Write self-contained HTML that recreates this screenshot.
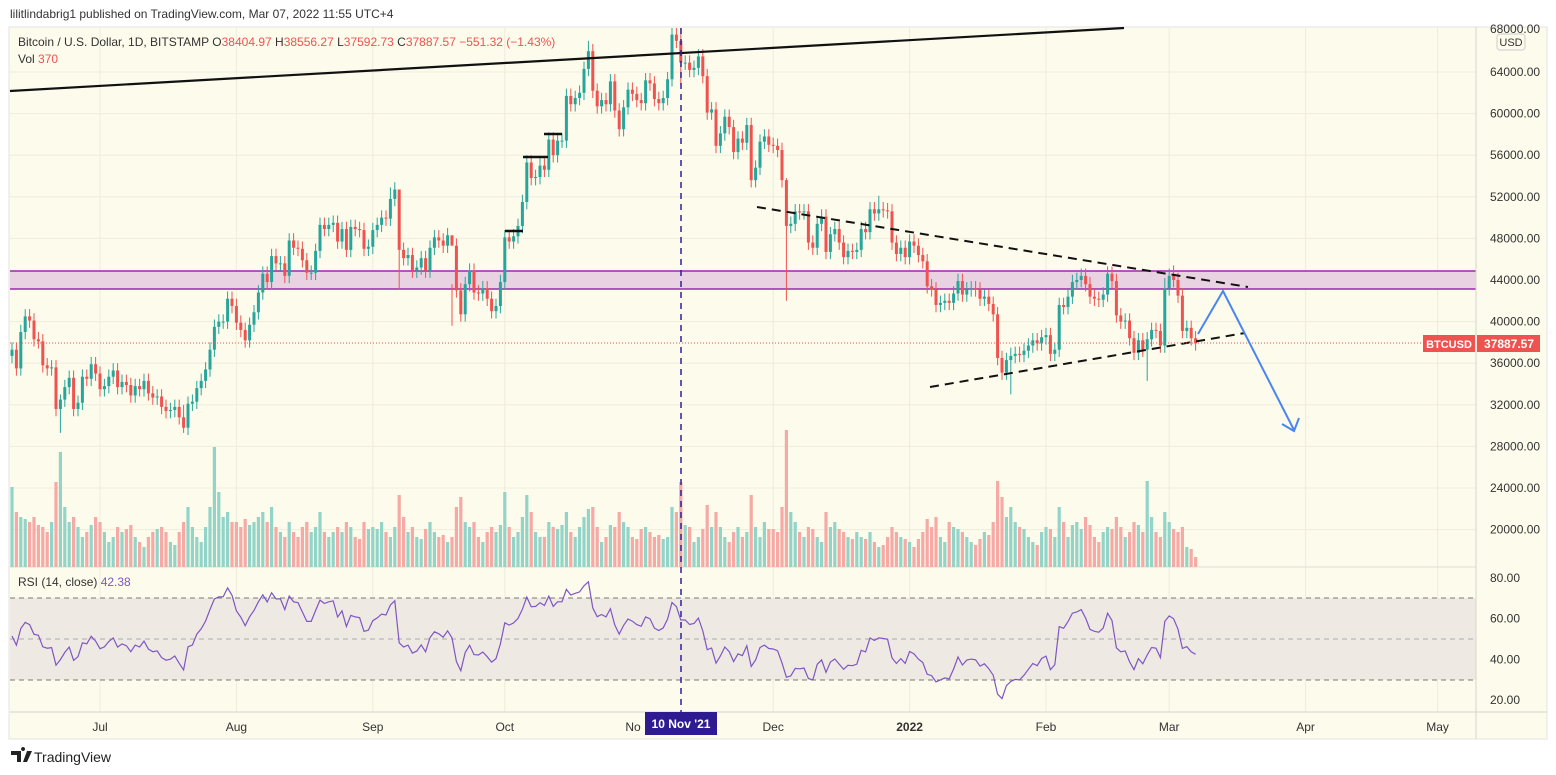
<!DOCTYPE html>
<html><head><meta charset="utf-8"><style>
html,body{margin:0;padding:0;background:#fff;width:1556px;height:775px;overflow:hidden}
svg{display:block;font-family:"Liberation Sans",sans-serif}
</style></head><body>
<svg id="chart" width="1556" height="775" viewBox="0 0 1556 775" xmlns="http://www.w3.org/2000/svg">
<defs><clipPath id="mainClip"><rect x="10" y="28" width="1466" height="539"/></clipPath></defs>
<text x="10" y="18" font-size="12" fill="#333">lilitlindabrig1 published on TradingView.com, Mar 07, 2022 11:55 UTC+4</text>
<rect x="9" y="27" width="1538" height="712" fill="#fdfbec" stroke="#e3e3e3"/>
<g id="grid"></g>
<rect x="10" y="598" width="1466" height="82" fill="#efe9e4"/>
<line x1="10" y1="598" x2="1476" y2="598" stroke="#777" stroke-dasharray="5,4"/>
<line x1="10" y1="639" x2="1476" y2="639" stroke="#aaa" stroke-dasharray="5,4"/>
<line x1="10" y1="680" x2="1476" y2="680" stroke="#777" stroke-dasharray="5,4"/>
<rect x="10" y="271" width="1466" height="18" fill="#e9d3e2"/>
<line x1="10" y1="271" x2="1476" y2="271" stroke="#9c27b0" stroke-width="1.5"/>
<line x1="10" y1="289" x2="1476" y2="289" stroke="#9c27b0" stroke-width="1.5"/>
<line x1="10" y1="567" x2="1476" y2="567" stroke="#e0ddd0"/>
<line x1="10" y1="712" x2="1547" y2="712" stroke="#d8d6cc"/>
<line x1="1476" y1="27" x2="1476" y2="739" stroke="#d8d6cc"/>
<g id="vol"></g>
<g id="candles" clip-path="url(#mainClip)"></g>
<polyline id="rsi" fill="none" stroke="#7e57c2" stroke-width="1.2"/>
<line x1="10" y1="91" x2="1124" y2="28" stroke="#111" stroke-width="2.2"/>
<line x1="505" y1="231" x2="523" y2="231" stroke="#111" stroke-width="2.5"/>
<line x1="523" y1="157" x2="548" y2="157" stroke="#111" stroke-width="2.5"/>
<line x1="544" y1="134" x2="562" y2="134" stroke="#111" stroke-width="2.5"/>
<line x1="757" y1="207" x2="1248" y2="287" stroke="#111" stroke-width="2" stroke-dasharray="9,6"/>
<line x1="930" y1="387" x2="1245" y2="333" stroke="#111" stroke-width="2" stroke-dasharray="9,6"/>
<polyline points="1198,334 1223,291 1294,430" fill="none" stroke="#4a86f0" stroke-width="2"/>
<polyline points="1282,424 1294,431 1299,418" fill="none" stroke="#4a86f0" stroke-width="2"/>
<line x1="10" y1="343" x2="1476" y2="343" stroke="#ef5350" stroke-dasharray="1,2"/>
<line x1="681" y1="28" x2="681" y2="712" stroke="#2e1fa0" stroke-width="1.5" stroke-dasharray="6,5"/>
<g id="axis"></g>
<rect x="1423" y="335" width="52" height="17" fill="#ef5350"/>
<text x="1449" y="348" font-size="11" font-weight="bold" fill="#fff" text-anchor="middle">BTCUSD</text>
<rect x="1477" y="335" width="63" height="17" fill="#ef5350"/>
<text x="1509" y="348" font-size="12" font-weight="bold" fill="#fff" text-anchor="middle">37887.57</text>
<rect x="1497" y="34" width="28" height="16" rx="3" fill="#fdfbec" stroke="#ccc"/>
<text x="1511" y="46" font-size="11" fill="#333" text-anchor="middle">USD</text>
<text x="18" y="46" font-size="12" fill="#333">Bitcoin / U.S. Dollar, 1D, BITSTAMP  O<tspan fill="#ef5350">38404.97</tspan>  H<tspan fill="#ef5350">38556.27</tspan>  L<tspan fill="#ef5350">37592.73</tspan>  C<tspan fill="#ef5350">37887.57  −551.32 (−1.43%)</tspan></text>
<text x="18" y="63" font-size="12" fill="#333">Vol  <tspan fill="#ef5350">370</tspan></text>
<text x="18" y="586" font-size="12" fill="#333">RSI (14, close)  <tspan fill="#7e57c2">42.38</tspan></text>
<rect x="645" y="712" width="72" height="23" fill="#2e1b91"/>
<text x="681" y="728" font-size="12" font-weight="bold" fill="#fff" text-anchor="middle">10 Nov '21</text>
<g>
<path d="M11 751h10v11h-4v-7h-6z M23 751a2 2 0 1 1 0.1 0z M27 751h5l-5 11h-4z" fill="#222"/>
<text x="34" y="762" font-size="14" fill="#222">TradingView</text>
</g>
</svg>
<script>
const warmup=[36.7,37.6,39.2,36.9,35.5,35.8,33.6,33.4,37.4,36.7];
const closes=[37.3,35.5,39.0,40.5,40.1,38.3,38.1,35.8,35.5,35.6,31.6,32.5,33.7,34.6,31.6,32.2,34.7,34.5,35.9,35.0,
33.5,33.8,34.7,35.3,33.7,34.2,33.9,32.9,33.8,33.5,34.3,33.1,32.7,32.8,31.8,31.4,31.5,31.8,30.8,29.8,32.1,32.3,33.6,34.3,35.4,37.3,39.5,40.0,40.0,42.2,41.5,
39.9,39.2,38.2,39.7,40.9,42.8,44.6,43.8,46.3,45.6,45.6,44.4,47.8,47.1,47.0,45.9,44.7,44.7,46.8,49.3,48.9,49.3,49.5,47.7,48.9,46.9,49.1,48.9,48.8,47.0,47.2,
48.8,49.3,50.0,49.9,51.8,52.7,46.9,46.1,46.4,44.9,45.2,46.1,44.9,47.1,48.1,47.8,47.3,48.3,47.3,43.0,40.7,43.6,44.9,42.8,42.7,43.2,42.2,41.0,41.5,43.8,
48.1,47.7,48.2,49.2,51.5,55.3,53.8,53.9,55.0,54.6,57.5,56.0,57.4,57.4,61.7,60.9,61.5,62.0,64.3,66.0,62.2,60.7,61.3,60.9,63.1,60.3,58.5,60.6,62.3,61.9,61.3,
61.0,63.2,62.9,61.4,61.0,61.5,63.3,67.6,67.0,64.9,64.9,64.2,64.4,65.5,63.6,60.1,60.4,56.9,58.1,59.7,58.7,56.3,57.6,57.2,58.9,53.6,54.8,57.3,57.8,57.0,
56.9,56.5,53.6,49.2,49.4,50.6,50.5,50.6,47.6,47.1,49.4,50.1,46.7,48.4,48.9,47.6,46.2,46.8,46.7,46.9,48.9,48.6,50.8,50.4,50.8,50.7,50.6,47.6,46.5,47.1,46.2,
47.7,47.3,46.4,45.8,43.4,43.1,41.6,41.8,42.0,41.8,42.7,43.9,42.6,43.1,43.2,43.1,42.2,42.4,41.7,40.7,36.5,35.1,36.3,36.7,36.9,36.8,37.2,37.7,38.2,37.9,38.5,
38.7,36.9,37.3,41.6,41.4,42.4,43.8,44.0,44.4,43.6,42.4,42.2,42.1,42.6,44.6,43.9,40.6,40.0,40.1,38.4,37.0,38.2,37.3,38.3,39.2,39.1,37.7,43.2,
44.4,44.0,42.5,39.1,39.4,38.4,37.9];
const highOverrides={11:33.0,39:32.0,86:52.9,88:47.0,100:43.6,131:67.0,152:68.5,176:53.8,197:52.1,227:37.5,258:39.0,262:44.2,264:45.4};
const lowOverrides={11:29.3,39:29.3,88:43.1,100:39.6,152:62.8,176:42.0,227:33.0,258:34.3};
const volumes=[80,55,50,48,45,50,42,40,35,45,85,115,60,45,50,40,30,35,42,50,
45,35,25,30,40,35,38,42,30,25,20,30,35,38,40,35,25,22,35,45,60,40,30,25,40,60,120,75,50,55,45,
45,40,48,42,45,50,55,45,60,40,35,30,45,35,30,40,45,35,40,55,35,30,35,40,35,45,40,30,28,45,38,
40,38,45,35,30,40,72,50,35,40,30,28,38,45,35,30,32,25,30,60,70,45,40,45,30,25,35,40,35,42,
75,40,30,35,50,72,55,35,30,30,45,40,38,42,55,35,30,40,50,58,60,40,25,30,42,40,55,45,40,30,28,
38,40,35,30,32,28,30,60,55,85,42,40,25,30,38,62,40,55,40,30,25,35,40,30,35,72,40,30,45,38,
38,35,60,137,55,45,35,30,40,38,30,25,55,40,45,38,35,30,28,35,30,28,35,25,20,22,30,40,35,30,28,
25,20,28,35,48,40,50,30,25,45,40,38,35,30,25,22,28,35,32,45,86,70,50,60,45,40,38,30,25,22,35,
40,38,30,60,45,30,42,45,38,50,42,30,25,35,40,38,50,40,30,35,45,42,35,86,50,35,30,55,
45,38,35,40,20,18,10];
const priceTicks=[64000,60000,56000,52000,48000,44000,40000,36000,32000,28000,24000,20000];
const rsiTicks=[80,60,40,20];
const monthLabels=["Jul","Aug","Sep","Oct","Dec","2022","Feb","Mar","Apr","May"];
const monthDayIndex=[20,51,82,112,173,204,235,263,294,324];

const NS="http://www.w3.org/2000/svg";
function xAt(i){return 12+i*4.4;}
function yPrice(k){return 280-(k-44)*10.4;}
function yRsi(v){return 700-(v-20)*122/60;}
function yVol(v){return 567-v;}
function mk(tag,attrs,parent){const e=document.createElementNS(NS,tag);for(const k in attrs)e.setAttribute(k,attrs[k]);parent.appendChild(e);return e;}
const grid=document.getElementById('grid'),axis=document.getElementById('axis');
priceTicks.forEach(p=>{const y=yPrice(p/1000);
 const l=mk('line',{x1:10,x2:1476,y1:y,y2:y,stroke:'#efecdb'},grid);
 
 
 const t=mk('text',{x:1490,y:y+4,'font-size':12,fill:'#333'},axis);t.textContent=p.toFixed(2);
 
 });
{const t=mk('text',{x:1490,y:33,'font-size':12,fill:'#333'},axis);t.textContent='68000.00';
 
 }
rsiTicks.forEach(v=>{const y=yRsi(v);
 const t=mk('text',{x:1490,y:y+4,'font-size':12,fill:'#333'},axis);t.textContent=v.toFixed(2);
 
 });
monthLabels.forEach((m,k)=>{const x=xAt(monthDayIndex[k]);
 const l=mk('line',{x1:x,x2:x,y1:28,y2:712,stroke:'#efecdb'},grid);
 
 
 const t=mk('text',{x:x,y:731,'font-size':12,fill:'#333','text-anchor':'middle','font-weight':m==='2022'?'bold':'normal'},axis);t.textContent=m;
 
 });
{const t=mk('text',{x:633,y:731,'font-size':12,fill:'#333','text-anchor':'middle'},axis);t.textContent='No';
 
 }
const cg=document.getElementById('candles'),vg=document.getElementById('vol');
let prev=warmup[warmup.length-1];
closes.forEach((c,i)=>{const o=prev;prev=c;const up=c>=o;const col=up?'#26a69a':'#ef5350';
 const hi=highOverrides[i]!==undefined?highOverrides[i]:Math.max(o,c)+0.7;
 const lo=lowOverrides[i]!==undefined?lowOverrides[i]:Math.min(o,c)-0.7;
 const x=xAt(i);
 const w=mk('line',{x1:x,x2:x,y1:yPrice(hi),y2:yPrice(lo),stroke:col,'stroke-width':1},cg);
 
 
 const yt=yPrice(Math.max(o,c)),yb=yPrice(Math.min(o,c));
 const b=mk('rect',{x:x-1.5,y:yt,width:3,height:Math.max(1,yb-yt),fill:col},cg);
 
 
 const v=mk('rect',{x:x-1.6,y:yVol(volumes[i]),width:3.2,height:volumes[i],fill:up?'#93d4c8':'#f6a9a5'},vg);
 
 });
const all=warmup.concat(closes);let ag=0,al=0;const pts=[];
for(let j=1;j<all.length;j++){const d=all[j]-all[j-1];const g=Math.max(d,0),l=Math.max(-d,0);
 if(j<=9){ag+=g/9;al+=l/9;}else{ag=(ag*13+g)/14;al=(al*13+l)/14;}
 const i=j-warmup.length;if(i>=0){const r=al===0?100:100-100/(1+ag/al);pts.push(xAt(i).toFixed(1)+','+yRsi(r).toFixed(1));}}
document.getElementById('rsi').setAttribute('points',pts.join(' '));
</script>
</body></html>
